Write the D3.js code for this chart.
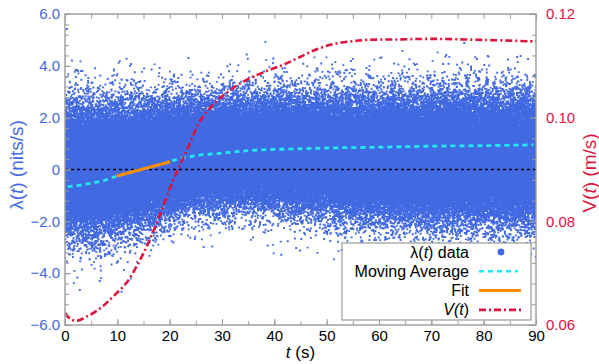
<!DOCTYPE html>
<html>
<head>
<meta charset="utf-8">
<script src="https://cdn.jsdelivr.net/npm/d3@7/dist/d3.min.js"></script>
<style>
  html, body { margin: 0; padding: 0; background: #fff; }
  svg { display: block; font-family: "Liberation Sans", Arial, sans-serif; }
</style>
</head>
<body>
<svg id="chart" width="599" height="364"></svg>
<script>
// cloud envelope (edges of the solid part of the lambda scatter)
const cloudTime = [0, 5, 10, 15, 20, 25, 30, 40, 50, 60, 70, 80, 90];
const cloudUpper = [2.65, 2.65, 2.65, 2.65, 2.7, 2.75, 2.8, 2.85, 2.9, 2.95, 2.95, 2.95, 2.95];
const cloudLower = [-2.7, -2.65, -2.5, -2.2, -1.85, -1.6, -1.5, -1.55, -1.75, -2.0, -2.15, -2.2, -2.2];
const cloudCount = 150000;

// moving average of lambda
const maTime = [0.5, 3, 5.4, 7.5, 9.2, 10, 15, 20, 20.4, 24.5, 30.9, 36.6, 45, 50, 60, 70, 80, 89.5];
const maValue = [-0.66, -0.6, -0.51, -0.42, -0.3, -0.25, 0.02, 0.3, 0.34, 0.52, 0.65, 0.75, 0.8, 0.83, 0.86, 0.9, 0.92, 0.95];

// linear fit
const fitTime = [9.9, 20.1];
const fitValue = [-0.25, 0.3];

// V(t) on the right axis
const vTime = [0, 1, 2.2, 4.1, 6.7, 9.2, 11.8, 14.0, 15.9, 18.0, 20.4, 23.3, 26.1, 29, 32.1, 34.7, 38.5, 41.7, 44.9, 48.1, 51.3, 54.5, 57.7, 64, 70, 80, 90];
const vValue = [0.0623, 0.0612, 0.0608, 0.0616, 0.0632, 0.0655, 0.0682, 0.0719, 0.0758, 0.0809, 0.0873, 0.0938, 0.0998, 0.1032, 0.1057, 0.1073, 0.1090, 0.1102, 0.1117, 0.1132, 0.1142, 0.1147, 0.1150, 0.1151, 0.1152, 0.1150, 0.1147];

// axes
const xTicks = [0, 10, 20, 30, 40, 50, 60, 70, 80, 90];
const yTicks = [-6, -4, -2, 0, 2, 4, 6];
const vTicks = [0.06, 0.08, 0.10, 0.12];

const blue = '#4169e1', red = '#dc143c', cyan = '#22e8f2', orange = '#ff8c00';

const margin = { top: 14, right: 63, bottom: 39, left: 65 };
const width = 599 - margin.left - margin.right;
const height = 364 - margin.top - margin.bottom;

const svg = d3.select('#chart');
const g = svg.append('g').attr('transform', 'translate(' + margin.left + ',' + margin.top + ')');

const x = d3.scaleLinear().domain([0, 90]).range([0, width]);
const y = d3.scaleLinear().domain([-6, 6]).range([height, 0]);
const yv = d3.scaleLinear().domain([0.06, 0.12]).range([height, 0]);

g.append('clipPath').attr('id', 'clip')
    .append('rect').attr('width', width).attr('height', height);

const plot = g.append('g').attr('clip-path', 'url(#clip)');

// scatter cloud: individual points can't be read, so they are sampled
// deterministically inside the envelope read from the picture
const upper = d3.scaleLinear().domain(cloudTime).range(cloudUpper);
const lower = d3.scaleLinear().domain(cloudTime).range(cloudLower);
const normal = d3.randomNormal.source(d3.randomLcg(0.37))(0, 1);
const parts = [];
const s = 1.9;
for (let i = 0; i < cloudCount; i++) {
    const t = (i + 0.5) * 90 / cloudCount;
    const c = (upper(t) + lower(t)) / 2;
    const sd = (upper(t) - lower(t)) / 4.6;
    const v = c + sd * normal();
    const px = x(t) - s / 2, py = y(v) - s / 2;
    parts.push('M' + px.toFixed(1) + ' ' + py.toFixed(1) + 'h' + s + 'v' + s + 'h-' + s + 'z');
}
plot.append('path').attr('d', parts.join('')).attr('fill', blue);

// zero line
plot.append('line')
    .attr('x1', 0).attr('x2', width)
    .attr('y1', y(0)).attr('y2', y(0))
    .attr('stroke', '#000').attr('stroke-width', 1.3).attr('stroke-dasharray', '3,3');

// moving average
const maLine = d3.line().x((d, i) => x(maTime[i])).y(d => y(d)).curve(d3.curveCatmullRom);
plot.append('path').attr('d', maLine(maValue))
    .attr('fill', 'none').attr('stroke', cyan).attr('stroke-width', 2.8)
    .attr('stroke-dasharray', '5,4');

// fit
const fitLine = d3.line().x((d, i) => x(fitTime[i])).y(d => y(d));
plot.append('path').attr('d', fitLine(fitValue))
    .attr('fill', 'none').attr('stroke', orange).attr('stroke-width', 3);

// V(t)
const vLine = d3.line().x((d, i) => x(vTime[i])).y(d => yv(d)).curve(d3.curveCatmullRom);
plot.append('path').attr('d', vLine(vValue))
    .attr('fill', 'none').attr('stroke', red).attr('stroke-width', 2.6)
    .attr('stroke-dasharray', '7,3,2,3');

// ticks, all pointing inward
const fmtY = d => d === 0 ? '0' : d3.format('.1f')(d);
function styleAxis(sel, color) {
    sel.select('.domain').remove();
    sel.selectAll('line').attr('stroke', '#999');
    sel.selectAll('text').attr('fill', color).attr('font-size', 15);
}
g.append('g').attr('transform', 'translate(0,' + height + ')')
    .call(d3.axisBottom(x).tickValues(d3.range(0, 91, 5)).tickSize(-4).tickFormat(''))
    .call(sel => styleAxis(sel, '#000'));
g.append('g').attr('transform', 'translate(0,' + height + ')')
    .call(d3.axisBottom(x).tickValues(xTicks).tickSize(-6).tickPadding(5))
    .call(sel => styleAxis(sel, '#000'));
g.append('g')
    .call(d3.axisTop(x).tickValues(d3.range(0, 91, 5)).tickSize(-5).tickFormat(''))
    .call(sel => styleAxis(sel, '#000'));
g.append('g')
    .call(d3.axisLeft(y).tickValues(d3.range(-6, 6.01, 0.4)).tickSize(-4).tickFormat(''))
    .call(sel => styleAxis(sel, blue));
g.append('g')
    .call(d3.axisLeft(y).tickValues(yTicks).tickSize(-6).tickPadding(5).tickFormat(fmtY))
    .call(sel => styleAxis(sel, blue));
g.append('g').attr('transform', 'translate(' + width + ',0)')
    .call(d3.axisRight(yv).tickValues(d3.range(0.06, 0.1201, 0.004)).tickSize(-4).tickFormat(''))
    .call(sel => styleAxis(sel, red));
g.append('g').attr('transform', 'translate(' + width + ',0)')
    .call(d3.axisRight(yv).tickValues(vTicks).tickSize(-6).tickPadding(10).tickFormat(d3.format('.2f')))
    .call(sel => styleAxis(sel, red));

// frame
g.append('rect').attr('width', width).attr('height', height)
    .attr('fill', 'none').attr('stroke', '#999').attr('stroke-width', 1.4);

// axis titles
const left = svg.append('text')
    .attr('transform', 'translate(23,165) rotate(-90)')
    .attr('text-anchor', 'middle').attr('fill', blue).attr('font-size', 19);
left.append('tspan').text('λ(');
left.append('tspan').attr('font-style', 'italic').text('t');
left.append('tspan').text(') (nits/s)');

const right = svg.append('text')
    .attr('transform', 'translate(596,173) rotate(-90)')
    .attr('text-anchor', 'middle').attr('fill', red).attr('font-size', 19);
right.append('tspan').text('V(');
right.append('tspan').attr('font-style', 'italic').text('t');
right.append('tspan').text(') (m/s)');

const bottom = svg.append('text')
    .attr('x', margin.left + width / 2).attr('y', 358)
    .attr('text-anchor', 'middle').attr('fill', '#000').attr('font-size', 17);
bottom.append('tspan').attr('font-style', 'italic').text('t');
bottom.append('tspan').text(' (s)');

// legend
const lg = svg.append('g');
lg.append('rect').attr('x', 342).attr('y', 243).attr('width', 189).attr('height', 77)
    .attr('fill', '#fff').attr('stroke', '#999').attr('stroke-width', 1.2);
const rows = [
    { label: [['λ(', 0], ['t', 1], [') data', 0]], type: 'dot' },
    { label: [['Moving Average', 0]], type: 'ma' },
    { label: [['Fit', 0]], type: 'fit' },
    { label: [['V(', 1], ['t', 1], [')', 0]], type: 'v' }
];
rows.forEach((r, i) => {
    const cy = 252 + i * 19.3;
    const tx = lg.append('text').attr('x', 469).attr('y', cy + 5.5)
        .attr('text-anchor', 'end').attr('font-size', 16).attr('fill', '#000');
    r.label.forEach(p => tx.append('tspan').attr('font-style', p[1] ? 'italic' : 'normal').text(p[0]));
    if (r.type === 'dot') {
        lg.append('circle').attr('cx', 501).attr('cy', cy).attr('r', 3.4).attr('fill', blue);
    } else if (r.type === 'ma') {
        lg.append('line').attr('x1', 479).attr('x2', 518).attr('y1', cy).attr('y2', cy)
            .attr('stroke', cyan).attr('stroke-width', 2.6).attr('stroke-dasharray', '5,4');
    } else if (r.type === 'fit') {
        lg.append('line').attr('x1', 479).attr('x2', 521).attr('y1', cy).attr('y2', cy)
            .attr('stroke', orange).attr('stroke-width', 3);
    } else {
        lg.append('line').attr('x1', 479).attr('x2', 521).attr('y1', cy).attr('y2', cy)
            .attr('stroke', red).attr('stroke-width', 2.6).attr('stroke-dasharray', '7,3,2,3');
    }
});
</script>
</body>
</html>
